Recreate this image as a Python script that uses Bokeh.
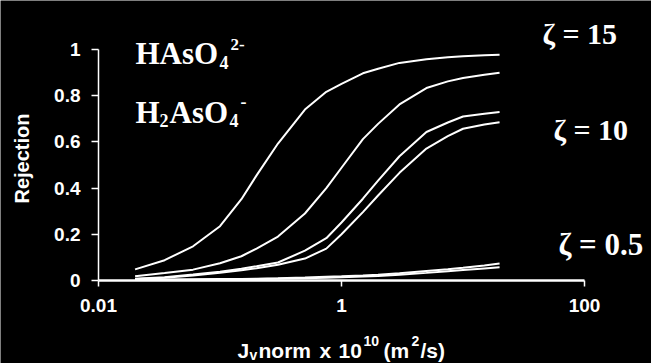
from bokeh.plotting import figure
from bokeh.models import Range1d, FixedTicker, Label
from bokeh.embed import file_html
from bokeh.resources import INLINE
import math

# ---- data ----
jv = [0.02, 0.035, 0.06, 0.1, 0.15, 0.2, 0.3, 0.5, 0.75, 1, 1.5, 2, 3, 5, 7.5, 10, 15, 20]
r_haso4_z15 = [0.048, 0.088, 0.148, 0.235, 0.352, 0.455, 0.593, 0.740, 0.817, 0.851, 0.897, 0.917, 0.942, 0.958, 0.966, 0.971, 0.975, 0.977]
r_h2aso4_z15 = [0.018, 0.032, 0.047, 0.075, 0.105, 0.138, 0.190, 0.290, 0.400, 0.488, 0.612, 0.678, 0.762, 0.833, 0.862, 0.877, 0.891, 0.899]
r_haso4_z10 = [0.008, 0.014, 0.026, 0.038, 0.051, 0.062, 0.078, 0.129, 0.183, 0.251, 0.354, 0.432, 0.538, 0.643, 0.684, 0.710, 0.722, 0.729]
r_h2aso4_z10 = [0.006, 0.012, 0.022, 0.033, 0.044, 0.053, 0.068, 0.095, 0.138, 0.200, 0.296, 0.368, 0.466, 0.571, 0.625, 0.657, 0.675, 0.685]
r_haso4_z05 = [0.003, 0.004, 0.005, 0.006, 0.007, 0.008, 0.010, 0.013, 0.016, 0.018, 0.022, 0.025, 0.031, 0.041, 0.049, 0.055, 0.065, 0.074]
r_h2aso4_z05 = [0.002, 0.003, 0.003, 0.004, 0.005, 0.006, 0.008, 0.010, 0.012, 0.014, 0.017, 0.020, 0.025, 0.033, 0.040, 0.045, 0.052, 0.057]

x_ticks = [0.01, 1, 100]
x_tick_labels = ["0.01", "1", "100"]
y_ticks = [0, 0.2, 0.4, 0.6, 0.8, 1]
y_tick_labels = ["0", "0.2", "0.4", "0.6", "0.8", "1"]

# ---- layout ----
W, H = 651, 363
AX_L, AX_R, AX_T, AX_B = 98, 584, 49, 280   # pixel positions of the axes box
dec = (AX_R - AX_L) / 4.0                    # pixels per decade
unit = (AX_B - AX_T) / 1.0                   # pixels per unit of rejection

x_lo = 10 ** (-2 - AX_L / dec)
x_hi = 10 ** (-2 + (W - AX_L) / dec)
y_hi = AX_B / unit
y_lo = -(H - AX_B) / unit

p = figure(width=W, height=H, x_axis_type="log",
           x_range=Range1d(x_lo, x_hi), y_range=Range1d(y_lo, y_hi),
           output_backend="svg", toolbar_location=None,
           min_border=0, min_border_left=0, min_border_right=0,
           min_border_top=0, min_border_bottom=0,
           background_fill_color="black", border_fill_color="black",
           outline_line_color=None)
p.grid.visible = False

for ys in [r_haso4_z15, r_h2aso4_z15, r_haso4_z10, r_h2aso4_z10, r_haso4_z05, r_h2aso4_z05]:
    p.line(jv, ys, line_color="white", line_width=2)

xa = p.xaxis[0]
xa.ticker = FixedTicker(ticks=x_ticks, minor_ticks=[])
xa.major_label_overrides = {t: s for t, s in zip(x_ticks, x_tick_labels)}
xa.fixed_location = 0
xa.bounds = (x_ticks[0], x_ticks[-1])
ya = p.yaxis[0]
ya.ticker = FixedTicker(ticks=y_ticks, minor_ticks=[])
ya.major_label_overrides = {t: s for t, s in zip(y_ticks, y_tick_labels)}
ya.fixed_location = x_ticks[0]
ya.bounds = (y_ticks[0], y_ticks[-1])

for ax, lw, tout in [(xa, 2.5, 6), (ya, 1.5, 7)]:
    ax.axis_line_color = "white"
    ax.axis_line_width = lw
    ax.major_tick_line_color = "white"
    ax.major_tick_line_width = 1.5
    ax.major_tick_out = tout
    ax.major_tick_in = 0
    ax.minor_tick_line_color = None
    ax.major_label_text_color = "white"
    ax.major_label_text_font = "Liberation Sans"
    ax.major_label_text_font_style = "bold"
    ax.major_label_text_font_size = "19px"
xa.major_label_standoff = 12
ya.major_label_standoff = 11


def put(text, px, py, size, font="Liberation Sans", align="left",
        baseline="alphabetic", angle=0.0):
    p.add_layout(Label(x=px, y=H - py, x_units="screen", y_units="screen",
                       text=text, text_font=font, text_font_size=f"{size}px",
                       text_font_style="bold", text_color="white",
                       text_align=align, text_baseline=baseline, angle=angle))


SERIF = "Liberation Serif"
# species labels
put("HAsO", 135, 53, 31, SERIF)
put("4", 219, 62, 18, SERIF)
put("2-", 230, 44, 17, SERIF)
put("H", 135, 112, 31, SERIF)
put("2", 159, 120, 18, SERIF)
put("AsO", 169, 112, 31, SERIF)
put("4", 229, 120, 18, SERIF)
put("-", 240, 101, 18, SERIF)

# zeta labels
put("ζ = 15", 542, 33, 30, SERIF)
put("ζ = 10", 553, 129, 30, SERIF)
put("ζ = 0.5", 558, 244, 31, SERIF)

# axis titles
put("Rejection", 21, 158, 20, align="center", baseline="middle", angle=math.pi / 2)
BL = 350
put("J", 237, BL, 21)
put("v", 249, BL + 4, 14)
put("norm", 258, BL, 21)
put("x", 319, BL, 21)
put("10", 338, BL, 21)
put("10", 363, BL - 10, 14)
put("(m", 383, BL, 21)
put("2", 411, BL - 10, 14)
put("/s)", 420, BL, 21)

open("out.html", "w").write(file_html(p, INLINE))
